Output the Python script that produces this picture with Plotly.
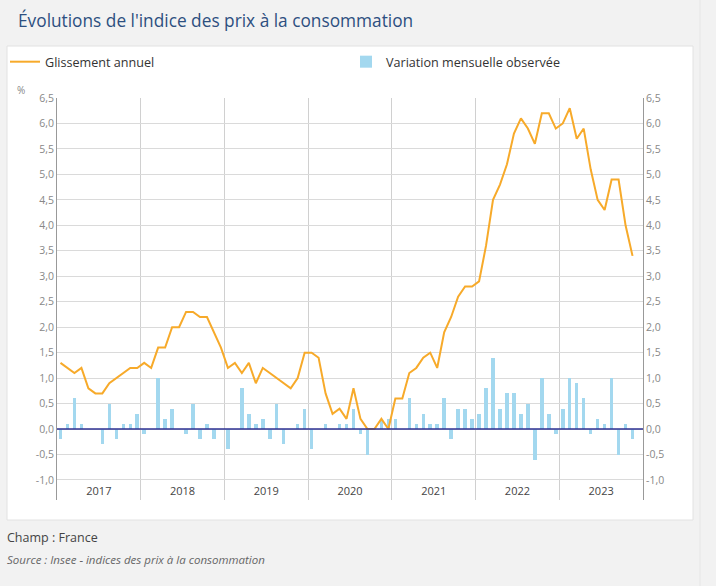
import plotly.graph_objects as go

# Months Jan 2017 .. Nov 2023
years = ["2017", "2018", "2019", "2020", "2021", "2022", "2023"]

glissement = [
    1.3, 1.2, 1.1, 1.2, 0.8, 0.7, 0.7, 0.9, 1.0, 1.1, 1.2, 1.2,   # 2017
    1.3, 1.2, 1.6, 1.6, 2.0, 2.0, 2.3, 2.3, 2.2, 2.2, 1.9, 1.6,   # 2018
    1.2, 1.3, 1.1, 1.3, 0.9, 1.2, 1.1, 1.0, 0.9, 0.8, 1.0, 1.5,   # 2019
    1.5, 1.4, 0.7, 0.3, 0.4, 0.2, 0.8, 0.2, 0.0, 0.0, 0.2, 0.0,   # 2020
    0.6, 0.6, 1.1, 1.2, 1.4, 1.5, 1.2, 1.9, 2.2, 2.6, 2.8, 2.8,   # 2021
    2.9, 3.6, 4.5, 4.8, 5.2, 5.8, 6.1, 5.9, 5.6, 6.2, 6.2, 5.9,   # 2022
    6.0, 6.3, 5.7, 5.9, 5.1, 4.5, 4.3, 4.9, 4.9, 4.0, 3.4,        # 2023
]

variation = [
    -0.2, 0.1, 0.6, 0.1, 0.0, 0.0, -0.3, 0.5, -0.2, 0.1, 0.1, 0.3,   # 2017
    -0.1, 0.0, 1.0, 0.2, 0.4, 0.0, -0.1, 0.5, -0.2, 0.1, -0.2, 0.0,  # 2018
    -0.4, 0.0, 0.8, 0.3, 0.1, 0.2, -0.2, 0.5, -0.3, 0.0, 0.1, 0.4,   # 2019
    -0.4, 0.0, 0.1, 0.0, 0.1, 0.1, 0.4, -0.1, -0.5, 0.0, 0.2, 0.2,   # 2020
    0.2, 0.0, 0.6, 0.1, 0.3, 0.1, 0.1, 0.6, -0.2, 0.4, 0.4, 0.2,     # 2021
    0.3, 0.8, 1.4, 0.4, 0.7, 0.7, 0.3, 0.5, -0.6, 1.0, 0.3, -0.1,    # 2022
    0.4, 1.0, 0.9, 0.6, -0.1, 0.2, 0.1, 1.0, -0.5, 0.1, -0.2,        # 2023
]

y_tickvals = [-1.0, -0.5, 0.0, 0.5, 1.0, 1.5, 2.0, 2.5, 3.0, 3.5, 4.0, 4.5, 5.0, 5.5, 6.0, 6.5]
y_ticktext = ["-1,0", "-0,5", "0,0", "0,5", "1,0", "1,5", "2,0", "2,5", "3,0",
              "3,5", "4,0", "4,5", "5,0", "5,5", "6,0", "6,5"]

months = list(range(len(glissement)))
n_months_axis = 12 * len(years)
year_mid = [12 * i + 5.5 for i in range(len(years))]
year_bounds = [12 * i - 0.5 for i in range(len(years) + 1)]

ORANGE = "#f7aa2a"
BLUE = "#a3d8ef"
FONT = "Open Sans"
W, H = 716, 586
L, R, T, B = 57, 73, 98, 86
PW, PH = W - L - R, H - T - B


def px(xp):
    return (xp - L) / PW


def py(yp):
    return 1 - (yp - T) / PH


fig = go.Figure()
fig.add_trace(go.Scatter(
    x=months, y=glissement, mode="lines", name="Glissement annuel",
    line=dict(color=ORANGE, width=2), yaxis="y2", legend="legend",
))
fig.add_trace(go.Bar(
    x=months, y=variation, name="Variation mensuelle observée",
    marker=dict(color=BLUE, line=dict(width=0)), width=0.5, legend="legend2",
))

yrange = [-1.393, 6.5]
leg_common = dict(
    orientation="h", xanchor="left", yanchor="middle",
    font=dict(family=FONT, size=12.6, color="#333"),
    bgcolor="rgba(0,0,0,0)",
)

fig.update_layout(
    width=W, height=H,
    margin=dict(l=L, r=R, t=T, b=B, autoexpand=False),
    paper_bgcolor="#f2f2f2",
    plot_bgcolor="rgba(0,0,0,0)",
    font=dict(family=FONT, size=12, color="#333"),
    showlegend=True,
    legend=dict(x=px(5), y=py(62), **leg_common),
    legend2=dict(x=px(346), y=py(62), **leg_common),
    bargap=0,
    xaxis=dict(
        range=[-0.5, n_months_axis - 0.5], automargin=False,
        tickvals=year_mid, ticktext=years,
        ticks="", ticklabelposition="inside",
        tickfont=dict(family=FONT, size=11, color="#444"),
        showgrid=False, zeroline=False, showline=False,
        minor=dict(tickvals=year_bounds, showgrid=True, gridcolor="#d0d0d0", gridwidth=1, ticks=""),
    ),
    yaxis=dict(
        range=yrange, tickvals=y_tickvals, ticktext=y_ticktext, automargin=False,
        tickfont=dict(family=FONT, size=10.5, color="#888"),
        showgrid=True, gridcolor="#dadada", gridwidth=1,
        zeroline=False, showline=True, linecolor="#999", linewidth=1,
        ticks="",
    ),
    yaxis2=dict(
        range=yrange, tickvals=y_tickvals, ticktext=y_ticktext, automargin=False,
        overlaying="y", side="right", anchor="x",
        tickfont=dict(family=FONT, size=10.5, color="#888"),
        showgrid=False, zeroline=False, showline=True, linecolor="#999", linewidth=1,
        ticks="",
    ),
)

# white panel, right strip, zero line
fig.add_shape(type="rect", xref="paper", yref="paper", layer="below",
              x0=px(7), x1=px(693), y0=py(520), y1=py(46),
              fillcolor="white", line=dict(color="#e2e2e2", width=1))
fig.add_shape(type="line", xref="paper", yref="paper", layer="below",
              x0=px(700), x1=px(700), y0=py(586), y1=py(0),
              line=dict(color="#e6e6e6", width=1))
fig.add_shape(type="line", xref="paper", yref="y", layer="above",
              x0=0, x1=1, y0=0, y1=0, line=dict(color="#2e3192", width=1.5))

fig.add_annotation(text="Évolutions de l'indice des prix à la consommation",
                   xref="paper", yref="paper", x=px(16), y=py(20),
                   xanchor="left", yanchor="middle", showarrow=False,
                   font=dict(family=FONT, size=17.3, color="#2d4f80"))
fig.add_annotation(text="%", xref="paper", yref="paper", x=px(15), y=py(90),
                   xanchor="left", yanchor="middle", showarrow=False,
                   font=dict(family=FONT, size=10, color="#888"))
fig.add_annotation(text="Champ : France", xref="paper", yref="paper",
                   x=px(5), y=py(537), xanchor="left", yanchor="middle",
                   showarrow=False, font=dict(family=FONT, size=12.5, color="#444"))
fig.add_annotation(text="<i>Source : Insee - indices des prix à la consommation</i>",
                   xref="paper", yref="paper", x=px(5), y=py(559),
                   xanchor="left", yanchor="middle", showarrow=False,
                   font=dict(family=FONT, size=11.5, color="#666"))

fig.write_html("out.html")
